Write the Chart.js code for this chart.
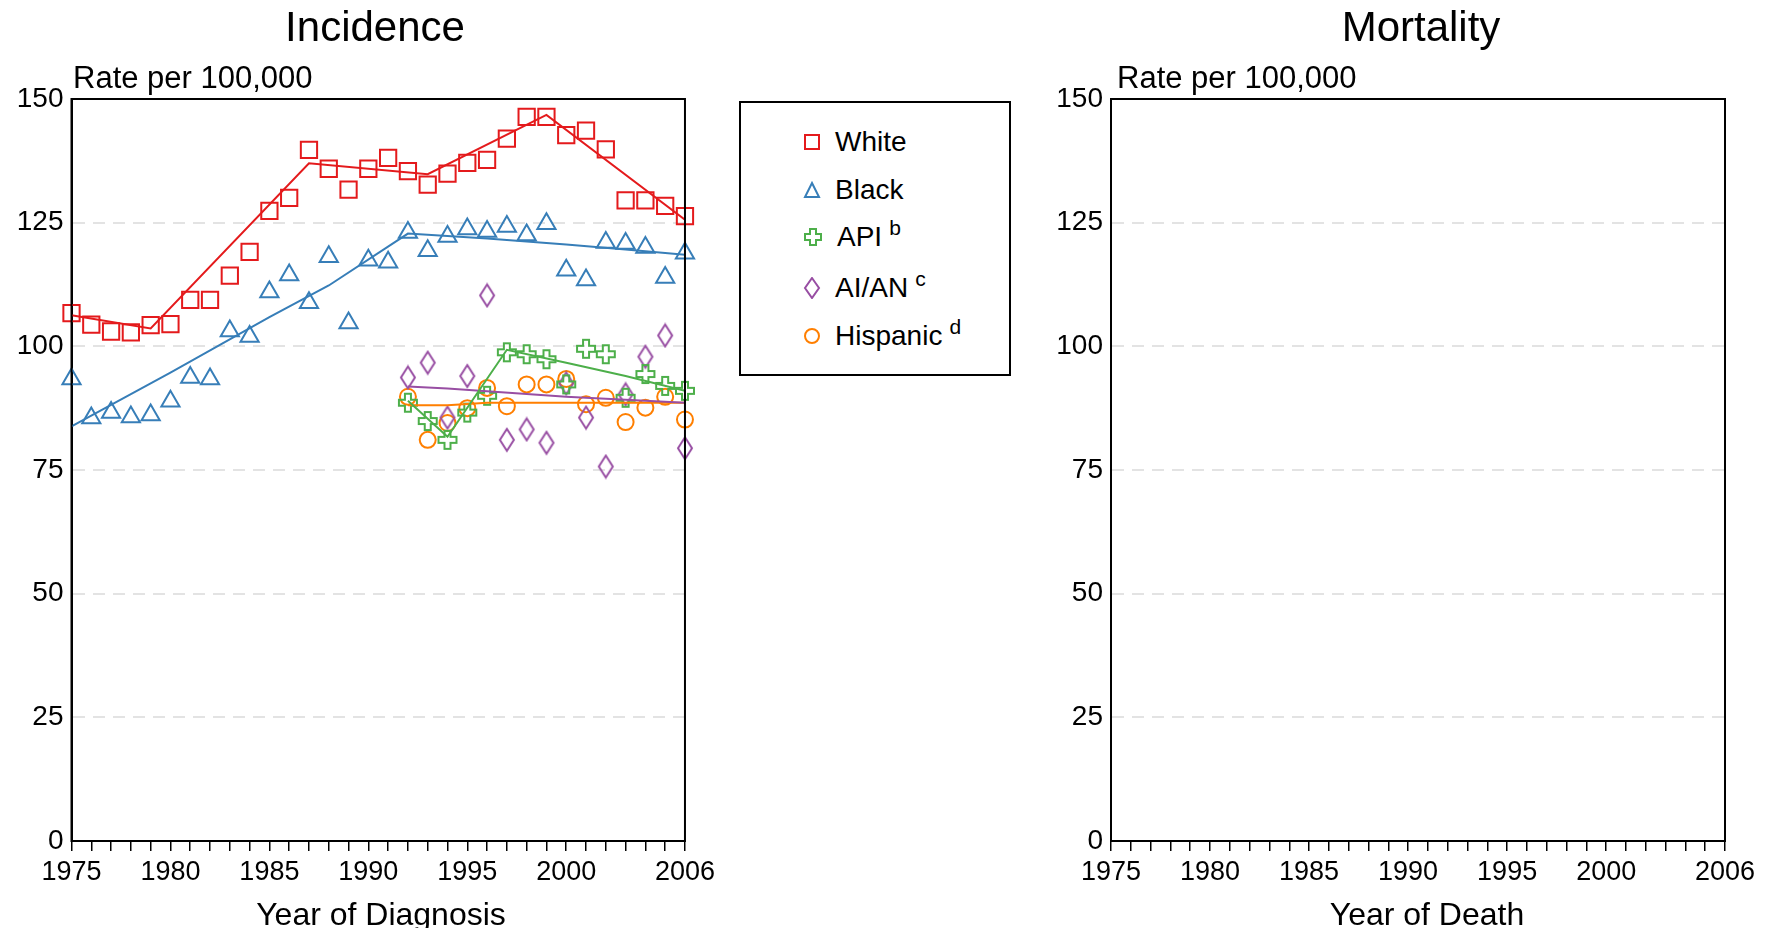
<!DOCTYPE html>
<html><head><meta charset="utf-8">
<script src="https://cdn.jsdelivr.net/npm/chart.js@4"></script>
<style>
body{margin:0;background:#fff;font-family:"Liberation Sans",Arial,sans-serif;}
#wrap{position:relative;width:1769px;height:928px;}
.t{position:absolute;white-space:nowrap;color:#000;line-height:1;}
.c{transform:translate(-50%,-50%);}
.l{transform:translate(0,-50%);}
#leg{position:absolute;left:739px;top:101px;width:268px;height:271px;border:2px solid #000;}
#leg .row{position:absolute;left:0;display:flex;align-items:center;font-size:28px;line-height:1;}
#leg svg{margin-left:62px;margin-right:14px;}
.sp{font-size:21px;position:relative;top:-10px;margin-left:7px;}
</style></head><body>
<div id="wrap">
<div style="position:absolute;left:0;top:0;width:720px;height:928px"><canvas id="c1"></canvas></div>
<div style="position:absolute;left:1040px;top:0;width:729px;height:928px"><canvas id="c2"></canvas></div>
<div class="t c" style="left:375px;top:27px;font-size:42px">Incidence</div>
<div class="t c" style="left:1421px;top:27px;font-size:42px">Mortality</div>
<div class="t l" style="left:73px;top:77px;font-size:31px">Rate per 100,000</div>
<div class="t l" style="left:1117px;top:77px;font-size:31px">Rate per 100,000</div>
<div class="t c" style="left:381px;top:914px;font-size:32px">Year of Diagnosis</div>
<div class="t c" style="left:1427px;top:914px;font-size:32px">Year of Death</div>
<div id="leg">
 <div class="row" style="top:25px"><svg width="18" height="18"><rect x="2" y="2" width="14" height="14" fill="none" stroke="#e41a1c" stroke-width="2"/></svg>White</div>
 <div class="row" style="top:73px"><svg width="18" height="18"><path d="M9 2 L16 16 L2 16 Z" fill="none" stroke="#377eb8" stroke-width="2"/></svg>Black</div>
 <div class="row" style="top:120px"><svg width="20" height="20"><path d="M7 2H13V7H18V13H13V18H7V13H2V7H7Z" fill="none" stroke="#4daf4a" stroke-width="2"/></svg>API<span class="sp">b</span></div>
 <div class="row" style="top:171px"><svg width="18" height="22"><path d="M9 1L16 11L9 21L2 11Z" fill="none" stroke="#984ea3" stroke-width="2"/></svg>AI/AN<span class="sp">c</span></div>
 <div class="row" style="top:219px"><svg width="18" height="18"><circle cx="9" cy="9" r="7" fill="none" stroke="#ff7f00" stroke-width="2"/></svg>Hispanic<span class="sp">d</span></div>
</div>
</div>
<script>
const years = [1975,1976,1977,1978,1979,1980,1981,1982,1983,1984,1985,1986,1987,1988,1989,1990,1991,1992,1993,1994,1995,1996,1997,1998,1999,2000,2001,2002,2003,2004,2005,2006];
const white = [106.7,104.4,103.0,102.8,104.3,104.5,109.4,109.4,114.3,119.1,127.4,130.0,139.7,135.9,131.7,135.9,138.1,135.4,132.7,134.9,137.1,137.7,142.0,146.4,146.4,142.7,143.6,139.8,129.5,129.5,128.4,126.3];
const black = [93.4,85.5,86.6,85.7,86.1,88.9,93.7,93.4,103.1,102.0,111.0,114.4,108.8,118.1,104.7,117.4,117.0,123.0,119.3,122.2,123.7,123.2,124.2,122.5,124.8,115.4,113.4,121.0,120.8,120.0,113.9,118.8];
const minorityYears = [1992,1993,1994,1995,1996,1997,1998,1999,2000,2001,2002,2003,2004,2005,2006];
const api = [88.6,84.9,81.1,86.6,90.0,98.8,98.4,97.4,92.3,99.5,98.4,89.6,94.4,92.0,91.0];
const aian = [93.7,96.7,85.6,94.0,110.3,81.1,83.2,80.5,92.5,85.6,75.7,90.3,97.9,102.2,79.4];
const hispanic = [89.8,81.1,84.5,87.5,91.6,87.9,92.3,92.3,93.4,88.3,89.6,84.7,87.6,89.8,85.2];
const whiteTrendYears = [1975,1979,1987,1993,1999,2006];
const whiteTrend = [106.3,103.6,137.0,134.8,146.8,125.6];
const blackTrendYears = [1975,1980,1985,1988,1992,1996,2000,2003,2006];
const blackTrend = [83.8,94.7,105.9,112.3,122.8,121.8,120.6,119.6,118.5];
const apiTrendYears = [1992,1994,1997,2000,2003,2006];
const apiTrend = [89.0,81.7,99.3,96.7,94.0,91.0];
const aianTrendYears = [1992,1994,2000,2006];
const aianTrend = [91.9,91.5,89.8,88.6];
const hispTrendYears = [1992,1994,1996,2006];
const hispTrend = [88.1,88.1,88.6,88.6];
const xLabels = ['1975','1980','1985','1990','1995','2000','2006'];
const yTicks = [0,25,50,75,100,125,150];

const RED='#e41a1c',BLUE='#377eb8',GREEN='#4daf4a',PURPLE='#984ea3',ORANGE='#ff7f00';
function mk(w,h,draw){const c=document.createElement('canvas');c.width=w;c.height=h;const g=c.getContext('2d');g.lineWidth=2;draw(g);return c;}
const plusImg=mk(22,22,g=>{g.strokeStyle=GREEN;g.beginPath();g.moveTo(8,2);g.lineTo(14,2);g.lineTo(14,8);g.lineTo(20,8);g.lineTo(20,14);g.lineTo(14,14);g.lineTo(14,20);g.lineTo(8,20);g.lineTo(8,14);g.lineTo(2,14);g.lineTo(2,8);g.lineTo(8,8);g.closePath();g.stroke();});
const diaImg=mk(18,26,g=>{g.strokeStyle=PURPLE;g.beginPath();g.moveTo(9,2);g.lineTo(16,13);g.lineTo(9,24);g.lineTo(2,13);g.closePath();g.stroke();});

const pts=(xs,ys)=>xs.map((x,i)=>({x,y:ys[i]}));
const sc=(col,style,rad,xs,ys)=>({type:'scatter',data:pts(xs,ys),showLine:false,clip:false,pointStyle:style,pointRadius:rad,pointHoverRadius:rad,borderColor:col,backgroundColor:'rgba(0,0,0,0)',pointBorderWidth:2});
const ln=(col,xs,ys)=>({type:'line',data:pts(xs,ys),borderColor:col,borderWidth:2,pointRadius:0,fill:false,tension:0});

const frame={id:'frame',afterDraw(ch){const a=ch.chartArea,g=ch.ctx;g.save();g.strokeStyle='#000';g.lineWidth=2;g.strokeRect(a.left,a.top,a.right-a.left,a.bottom-a.top);g.restore();}};

function opts(yw){return{
 responsive:false,animation:false,
 layout:{padding:{top:99,right:0,left:0,bottom:0}},
 plugins:{legend:{display:false},tooltip:{enabled:false}},
 scales:{
  x:{type:'linear',min:1975,max:2006,
   afterBuildTicks:s=>{s.ticks=years.map(v=>({value:v}));},
   afterFit:s=>{s.height=87;},
   ticks:{autoSkip:false,maxRotation:0,padding:5,color:'#000',font:{family:'Liberation Sans',size:27},
     callback:v=>xLabels.includes(String(v))?String(v):''},
   grid:{drawOnChartArea:false,drawTicks:true,tickLength:10,color:'#000',lineWidth:1.5},
   border:{color:'#000',width:2}},
  y:{min:0,max:150,
   afterBuildTicks:s=>{s.ticks=yTicks.map(v=>({value:v}));},
   afterFit:s=>{s.width=yw;},
   ticks:{padding:8,color:'#000',font:{family:'Liberation Sans',size:28}},
   grid:{drawTicks:false,color:'#e3e3e3',lineWidth:2},
   border:{color:'#000',width:2,dash:[12,8]}}
 }};}

function setup(id,w,yw,padR,datasets){
 const cv=document.getElementById(id);cv.width=w;cv.height=928;cv.style.width=w+'px';cv.style.height='928px';
 const o=opts(yw);o.layout.padding.right=padR;
 new Chart(cv,{data:{datasets},options:o,plugins:[frame]});
}
setup('c1',720,71.5,32,[
 ln(RED,whiteTrendYears,whiteTrend),ln(BLUE,blackTrendYears,blackTrend),ln(GREEN,apiTrendYears,apiTrend),ln(PURPLE,aianTrendYears,aianTrend),ln(ORANGE,hispTrendYears,hispTrend),
 sc(RED,'rect',11.5,years,white),sc(BLUE,'triangle',10.5,years,black),sc(GREEN,plusImg,10,minorityYears,api),sc(PURPLE,diaImg,10,minorityYears,aian),sc(ORANGE,'circle',8,minorityYears,hispanic)
]);
setup('c2',729,71,44,[]);
</script>
</body></html>
